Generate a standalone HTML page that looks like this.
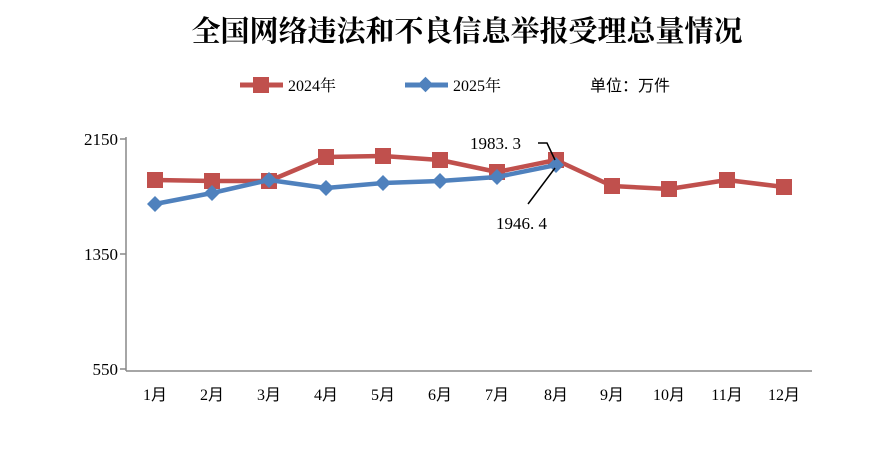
<!DOCTYPE html>
<html><head><meta charset="utf-8"><style>body{margin:0;background:#fff}svg{display:block}</style></head><body>
<svg width="894" height="456" xmlns="http://www.w3.org/2000/svg" font-family="'Liberation Serif','Noto Serif CJK SC',serif">
<rect width="894" height="456" fill="#fff"/>
<text x="467" y="41" font-size="29" font-weight="bold" text-anchor="middle" font-family="'Noto Serif CJK SC','Noto Sans CJK SC',serif">全国网络违法和不良信息举报受理总量情况</text>
<g font-size="16">
<line x1="240" y1="85" x2="283" y2="85" stroke="#c0504d" stroke-width="5"/>
<rect x="253" y="77" width="16" height="16" fill="#c0504d"/>
<text x="288" y="91">2024年</text>
<line x1="405" y1="85" x2="448" y2="85" stroke="#4f81bd" stroke-width="5"/>
<rect x="420" y="79" width="11" height="11" fill="#4f81bd" transform="rotate(45 425.5 84.5)"/>
<text x="453" y="91">2025年</text>
<text x="590" y="91" font-family="'Noto Sans CJK SC',sans-serif">单位：万件</text>
</g>
<g stroke="#888" stroke-width="1.5" fill="none">
<line x1="126" y1="137" x2="126" y2="371"/>
<line x1="126" y1="371" x2="812" y2="371"/>
<line x1="120" y1="139" x2="126" y2="139"/><line x1="120" y1="254" x2="126" y2="254"/><line x1="120" y1="369" x2="126" y2="369"/>
</g>
<g font-size="17" text-anchor="end"><text x="118" y="145">2150</text><text x="118" y="260">1350</text><text x="118" y="375">550</text></g>
<g font-size="16" text-anchor="middle" font-family="'Liberation Serif','Noto Sans CJK SC',serif">
<text x="155" y="400">1月</text><text x="212" y="400">2月</text><text x="269" y="400">3月</text><text x="326" y="400">4月</text><text x="383" y="400">5月</text><text x="440" y="400">6月</text><text x="497" y="400">7月</text><text x="556" y="400">8月</text><text x="612" y="400">9月</text><text x="669" y="400">10月</text><text x="727" y="400">11月</text><text x="784" y="400">12月</text>
</g>
<polyline fill="none" stroke="#c0504d" stroke-width="4.5" stroke-linejoin="round" points="155,180 212,181 269,181 326,157 383,156 440,160 497,172 556,160 612,186 669,189 727,180 784,187"/>
<g fill="#c0504d">
<rect x="147" y="172" width="16" height="16"/><rect x="204" y="173" width="16" height="16"/><rect x="261" y="173" width="16" height="16"/><rect x="318" y="149" width="16" height="16"/><rect x="375" y="148" width="16" height="16"/><rect x="432" y="152" width="16" height="16"/><rect x="489" y="164" width="16" height="16"/><rect x="548" y="152" width="16" height="16"/><rect x="604" y="178" width="16" height="16"/><rect x="661" y="181" width="16" height="16"/><rect x="719" y="172" width="16" height="16"/><rect x="776" y="179" width="16" height="16"/>
</g>
<polyline fill="none" stroke="#4f81bd" stroke-width="4.5" stroke-linejoin="round" points="155,204 212,193 269,180 326,188 383,183 440,181 497,177 556,165"/>
<g fill="#4f81bd">
<path d="M155 196l8 8-8 8-8-8z"/><path d="M212 185l8 8-8 8-8-8z"/><path d="M269 172l8 8-8 8-8-8z"/><path d="M326 180l8 8-8 8-8-8z"/><path d="M383 175l8 8-8 8-8-8z"/><path d="M440 173l8 8-8 8-8-8z"/><path d="M497 169l8 8-8 8-8-8z"/><path d="M556 157l8 8-8 8-8-8z"/>
</g>
<g stroke="#000" stroke-width="1.5" fill="none">
<polyline points="538,143 547,143 555,160"/>
<line x1="528" y1="204" x2="555" y2="168"/>
</g>
<g font-size="17" font-family="'Liberation Serif','Noto Sans CJK SC',serif"><text x="470" y="149">1983. 3</text><text x="496" y="229">1946. 4</text></g>
</svg>
</body></html>
